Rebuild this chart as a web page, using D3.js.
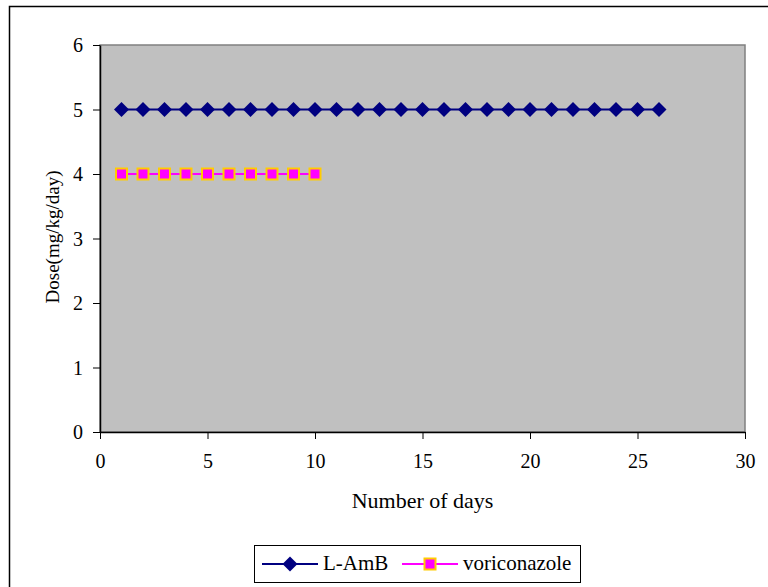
<!DOCTYPE html>
<html><head><meta charset="utf-8">
<script src="https://cdn.jsdelivr.net/npm/d3@7"></script>
<style>body{margin:0;background:#fff}svg{display:block}text{font-family:"Liberation Serif","Times New Roman",serif;fill:#000}</style>
</head><body><svg id="c" width="768" height="587"></svg>
<script>
const lambDays = [1,2,3,4,5,6,7,8,9,10,11,12,13,14,15,16,17,18,19,20,21,22,23,24,25,26];
const lambDose = [5,5,5,5,5,5,5,5,5,5,5,5,5,5,5,5,5,5,5,5,5,5,5,5,5,5];
const voriDays = [1,2,3,4,5,6,7,8,9,10];
const voriDose = [4,4,4,4,4,4,4,4,4,4];
const xTicks = [0,5,10,15,20,25,30];
const yTicks = [0,1,2,3,4,5,6];
const seriesNames = ["L-AmB","voriconazole"];

const svg = d3.select("#c");
const FONT = '"Liberation Serif","Times New Roman",serif';
// outer chart border
svg.append("rect").attr("x",9.5).attr("y",6.5).attr("width",800).attr("height",700)
  .attr("fill","#fff").attr("stroke","#000").attr("stroke-width",1.5);

const L=100, R=745, T=45, B=432;
const x = d3.scaleLinear().domain([0,30]).range([L,R]);
const y = d3.scaleLinear().domain([0,6]).range([B,T]);

svg.append("rect").attr("x",L).attr("y",T).attr("width",R-L).attr("height",B-T)
  .attr("fill","#C0C0C0").attr("stroke","#808080").attr("stroke-width",1.5);

const xAxis = svg.append("g").attr("transform",`translate(0,${B})`)
  .call(d3.axisBottom(x).tickValues(xTicks).tickFormat(d3.format("d")).tickSize(7).tickPadding(10).tickSizeOuter(0));
const yAxis = svg.append("g").attr("transform",`translate(${L},0)`)
  .call(d3.axisLeft(y).tickValues(yTicks).tickFormat(d3.format("d")).tickSize(7).tickPadding(10).tickSizeOuter(0));
[xAxis,yAxis].forEach(a=>{
  a.attr("font-family",FONT).attr("font-size",20);
  a.selectAll("text").attr("fill","#000");
  a.selectAll("line").attr("stroke","#000");
  a.select(".domain").attr("stroke","#000").attr("stroke-width",1.5);
});
yAxis.selectAll("text").attr("dy","0.33em");
xAxis.selectAll("text").attr("dy","0.95em");

svg.append("text").attr("x",(L+R)/2).attr("y",508).attr("text-anchor","middle")
  .style("font-size","22px").text("Number of days");
svg.append("text").attr("transform",`translate(59,237) rotate(-90)`).attr("text-anchor","middle")
  .style("font-size","19px").text("Dose(mg/kg/day)");

const line = d3.line().x(d=>x(d[0])).y(d=>y(d[1]));
const lamb = lambDays.map((d,i)=>[d,lambDose[i]]);
const vori = voriDays.map((d,i)=>[d,voriDose[i]]);

svg.append("path").attr("d",line(lamb)).attr("fill","none").attr("stroke","#000080").attr("stroke-width",2);
svg.append("path").attr("d",line(vori)).attr("fill","none").attr("stroke","#FF00FF").attr("stroke-width",2);

const diamond = (cx,cy,s)=>`M${cx},${cy-s}L${cx+s},${cy}L${cx},${cy+s}L${cx-s},${cy}Z`;
svg.selectAll(".dm").data(lamb).enter().append("path")
  .attr("d",d=>diamond(x(d[0]),y(d[1]),7.5)).attr("fill","#000080");
svg.selectAll(".sq").data(vori).enter().append("rect")
  .attr("x",d=>x(d[0])-5.5).attr("y",d=>y(d[1])-5.5).attr("width",11).attr("height",11)
  .attr("fill","#FF00FF").attr("stroke","#FFCC00").attr("stroke-width",2);

// legend
const lg = svg.append("g");
lg.append("rect").attr("x",254.5).attr("y",545.5).attr("width",326).attr("height",37)
  .attr("fill","#fff").attr("stroke","#000").attr("stroke-width",1);
const ly = 564;
lg.append("line").attr("x1",262).attr("x2",318).attr("y1",ly).attr("y2",ly).attr("stroke","#000080").attr("stroke-width",2);
lg.append("path").attr("d",diamond(290,ly,7.5)).attr("fill","#000080");
lg.append("text").attr("x",323).attr("y",570).style("font-size","21px").text(seriesNames[0]);
lg.append("line").attr("x1",402).attr("x2",458).attr("y1",ly).attr("y2",ly).attr("stroke","#FF00FF").attr("stroke-width",2);
lg.append("rect").attr("x",430-5.5).attr("y",ly-5.5).attr("width",11).attr("height",11)
  .attr("fill","#FF00FF").attr("stroke","#FFCC00").attr("stroke-width",2);
lg.append("text").attr("x",463).attr("y",570).style("font-size","21px").text(seriesNames[1]);
</script></body></html>
